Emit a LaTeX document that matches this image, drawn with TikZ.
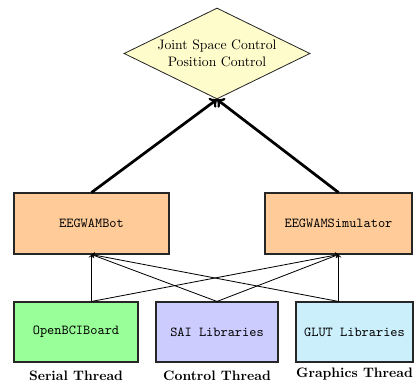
\documentclass[tikz,border=0pt]{standalone}
\usepackage{tikz}
\usetikzlibrary{shapes.geometric,positioning,arrows}
\tikzstyle{modbox}=[rectangle,draw=black!85,thick,font=\ttfamily,inner sep=0pt]
\tikzstyle{goal}=[diamond,shape aspect=2.05,draw=black!85,semithick,fill=yellow!20,align=center,inner sep=0pt,minimum width=135.8pt,minimum height=66.4pt]
\tikzstyle{threadname}=[font=\bfseries,inner sep=0pt]
\tikzstyle{feed}=[->,semithick]
\tikzstyle{drive}=[->,line width=2pt]

\begin{document}
\begin{tikzpicture}[x=0.73pt,y=-0.73pt]
	\useasboundingbox (0,0) rectangle (414,381);
	% goal of the controller
	\node[goal] (ctrl) at (217,53.5) {Joint Space Control\\Position Control};
	% robot and simulator
	\node[modbox,fill=orange!40,minimum width=113.2pt,minimum height=44.5pt] (bot) at (91.5,223.5) {EEGWAMBot};
	\node[modbox,fill=orange!40,minimum width=107.3pt,minimum height=44.5pt] (sim) at (338.5,223.5) {EEGWAMSimulator};
	% threads
	\node[modbox,fill=green!40,minimum width=90.5pt,minimum height=43.8pt] (bci) at (76,332) {OpenBCIBoard};
	\node[modbox,fill=blue!20,minimum width=89pt,minimum height=43.8pt] (sai) at (217,332) {SAI Libraries};
	\node[modbox,fill=cyan!20,minimum width=85.4pt,minimum height=43.8pt] (glut) at (354.5,332) {GLUT Libraries};
	\node[threadname,below=5.8pt of bci] (serial) {Serial Thread};
	\node[threadname,below=5.8pt of sai] (control) {Control Thread};
	\node[threadname,below=3.6pt of glut] (graphics) {Graphics Thread};
	% connections
	\draw[drive] (bot.north) -- (ctrl.south);
	\draw[drive] (sim.north) -- (ctrl.south);
	\draw[feed] (bci.north -| bot.south) -- (bot.south);
	\draw[feed] (bci.north -| bot.south) -- (sim.south);
	\draw[feed] (sai.north) -- (bot.south);
	\draw[feed] (sai.north) -- (sim.south);
	\draw[feed] (glut.north -| sim.south) -- (sim.south);
	\draw[feed] (glut.north -| sim.south) -- (bot.south);
\end{tikzpicture}
\end{document}
